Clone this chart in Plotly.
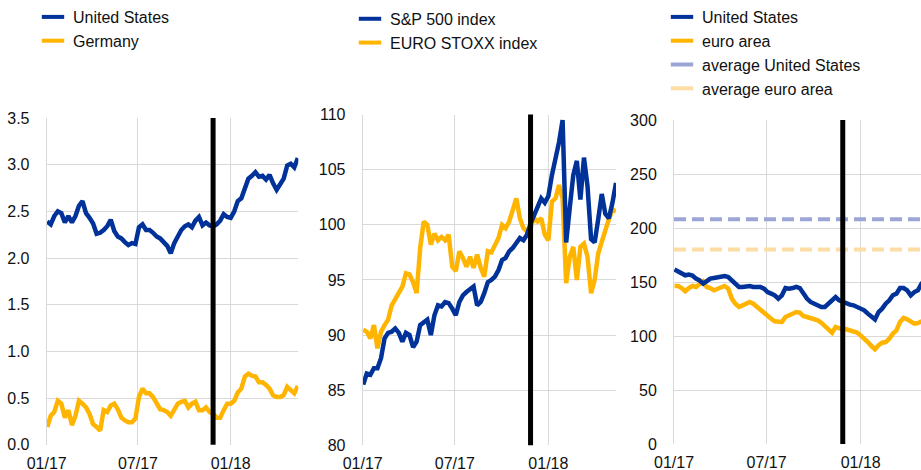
import pandas as pd
import plotly.graph_objects as go

# ---------------- data ----------------
dates = pd.date_range("2017-01-02", periods=72, freq="7D")
dates3 = dates[:71]

tick_vals = ["2017-01-01", "2017-07-01", "2018-01-01"]
tick_text = ["01/17", "07/17", "01/18"]
event_date = "2017-11-27"

# Panel 1: 10-year government bond yields (%)
p1_us = [2.39, 2.36, 2.45, 2.50, 2.48, 2.38, 2.45, 2.38, 2.45, 2.56,
         2.61, 2.48, 2.43, 2.37, 2.26, 2.27, 2.30, 2.34, 2.41, 2.29,
         2.23, 2.21, 2.17, 2.14, 2.16, 2.15, 2.33, 2.36, 2.30, 2.30,
         2.27, 2.23, 2.21, 2.17, 2.13, 2.05, 2.16, 2.23, 2.30, 2.34,
         2.36, 2.33, 2.40, 2.44, 2.35, 2.38, 2.35, 2.34, 2.36, 2.40,
         2.47, 2.44, 2.43, 2.50, 2.61, 2.64, 2.74, 2.85, 2.88, 2.92,
         2.87, 2.88, 2.84, 2.89, 2.80, 2.73, 2.79, 2.85, 2.99, 3.01,
         2.97, 3.07]
p1_de = [0.19, 0.31, 0.35, 0.47, 0.44, 0.29, 0.37, 0.21, 0.31, 0.47,
         0.44, 0.40, 0.33, 0.22, 0.19, 0.15, 0.37, 0.35, 0.42, 0.44,
         0.38, 0.29, 0.26, 0.24, 0.24, 0.28, 0.51, 0.60, 0.55, 0.55,
         0.51, 0.44, 0.38, 0.37, 0.35, 0.31, 0.38, 0.44, 0.46, 0.47,
         0.40, 0.44, 0.46, 0.37, 0.37, 0.40, 0.35, 0.33, 0.29, 0.29,
         0.37, 0.44, 0.44, 0.47, 0.56, 0.60, 0.73, 0.76, 0.74, 0.73,
         0.67, 0.67, 0.64, 0.60, 0.53, 0.51, 0.51, 0.53, 0.62, 0.58,
         0.55, 0.63]

# Panel 2: equity indices
p2_sp = [85.5, 86.5, 86.4, 87.0, 87.0, 87.9, 89.7, 90.2, 90.3, 90.6,
         90.2, 89.4, 90.2, 90.0, 88.9, 89.4, 90.9, 91.2, 91.4, 90.0,
         91.8, 92.7, 92.6, 93.0, 92.9, 92.4, 91.8, 93.0, 93.6, 93.9,
         94.2, 94.4, 92.7, 93.0, 93.8, 94.8, 95.0, 95.3, 95.9, 96.8,
         97.0, 97.6, 97.9, 98.3, 98.8, 98.6, 99.1, 100.1, 100.9, 101.5,
         102.4, 102.0, 102.6, 104.5, 105.8, 107.5, 109.5, 98.4, 101.5, 104.5,
         105.8, 102.3, 106.1, 103.5, 98.7, 98.4, 100.5, 102.8, 101.0, 100.6,
         102.0, 103.8]
p2_es = [90.5, 90.3, 89.7, 90.9, 88.8, 90.3, 90.9, 91.4, 92.7, 93.3,
         93.8, 94.4, 95.6, 95.5, 94.8, 93.8, 97.9, 100.3, 100.0, 98.2,
         99.2, 98.6, 98.9, 98.6, 99.1, 96.2, 95.8, 97.6, 97.0, 96.2,
         97.1, 96.1, 97.3, 96.1, 95.3, 97.6, 97.5, 98.2, 98.8, 100.0,
         99.7, 100.3, 101.2, 102.4, 100.6, 99.7, 99.4, 99.8, 100.6, 100.3,
         100.6, 99.1, 98.6, 102.1, 102.4, 103.6, 102.4, 94.7, 97.1, 98.0,
         95.0, 98.0, 98.3, 97.1, 93.8, 95.0, 97.4, 98.3, 99.5, 100.5,
         101.4, 101.2]

# Panel 3: corporate bond spreads (basis points)
p3_us = [161.7, 159.9, 157.7, 156.2, 156.8, 156.0, 153.1, 151.5, 148.5, 151.5,
         153.1, 153.7, 154.6, 154.6, 155.6, 154.6, 151.5, 148.5, 145.4, 145.4,
         146.3, 146.3, 145.4, 145.4, 145.4, 143.8, 140.7, 139.2, 137.7, 134.6,
         137.7, 144.4, 143.8, 144.4, 145.4, 144.4, 139.2, 134.6, 131.5, 129.9,
         128.4, 126.9, 126.9, 129.9, 133.0, 136.1, 133.0, 131.5, 129.9, 129.0,
         128.4, 126.9, 125.3, 123.8, 120.7, 118.5, 115.4, 122.2, 125.3, 129.9,
         133.0, 137.7, 139.2, 144.4, 144.4, 142.3, 137.7, 140.7, 142.3, 148.5,
         151.5]
p3_ea = [146.3, 146.3, 144.4, 141.4, 144.4, 146.3, 145.4, 147.5, 150.6, 145.4,
         144.4, 142.3, 143.8, 145.4, 146.3, 143.8, 134.6, 129.9, 126.9, 128.4,
         129.9, 131.5, 129.9, 126.9, 123.8, 120.7, 118.5, 116.0, 113.6, 113.0,
         113.0, 117.6, 119.1, 120.7, 122.2, 121.6, 118.5, 117.6, 116.7, 115.4,
         114.5, 112.3, 109.3, 106.8, 103.1, 108.3, 106.8, 106.2, 106.2, 105.2,
         104.3, 103.1, 100.6, 98.1, 94.4, 90.7, 87.7, 91.4, 93.8, 94.4,
         97.5, 102.2, 105.2, 113.0, 116.7, 115.4, 113.0, 111.5, 112.0, 114.0,
         115.0]
p3_avg_us = 208
p3_avg_ea = 180

# ---------------- styles ----------------
BLUE = "#003299"
YELLOW = "#FFB400"
AVG_BLUE = "#9CA6D6"
AVG_YELLOW = "#FDDDA4"
GRID = "#D9D9D9"
FONT = "Liberation Sans, Arial, sans-serif"
TXT = "#111111"
LW = 4.5

fig = go.Figure()


def add_line(x, y, color, xa, ya, dash=None, width=LW):
    fig.add_trace(go.Scatter(x=x, y=y, mode="lines", xaxis=xa, yaxis=ya,
                             line=dict(color=color, width=width, dash=dash),
                             showlegend=False, hoverinfo="skip"))


def add_legend_item(name, color, legend):
    fig.add_trace(go.Scatter(x=[None], y=[None], mode="markers", name=name,
                             legend=legend, xaxis="x", yaxis="y",
                             marker=dict(symbol="line-ew", size=16, color=color,
                                         line=dict(color=color, width=4))))


# panel 1
add_line(dates, p1_de, YELLOW, "x", "y")
add_line(dates, p1_us, BLUE, "x", "y")
# panel 2
add_line(dates, p2_es, YELLOW, "x2", "y2")
add_line(dates, p2_sp, BLUE, "x2", "y2")
# panel 3
x_avg = ["2017-01-01", "2018-05-14"]
add_line(x_avg, [p3_avg_us] * 2, AVG_BLUE, "x3", "y3", dash="12px,6px", width=4)
add_line(x_avg, [p3_avg_ea] * 2, AVG_YELLOW, "x3", "y3", dash="12px,6px", width=4)
add_line(dates3, p3_ea, YELLOW, "x3", "y3")
add_line(dates3, p3_us, BLUE, "x3", "y3")

add_legend_item("United States", BLUE, "legend")
add_legend_item("Germany", YELLOW, "legend")
add_legend_item("S&P 500 index", BLUE, "legend2")
add_legend_item("EURO STOXX index", YELLOW, "legend2")
add_legend_item("United States", BLUE, "legend3")
add_legend_item("euro area", YELLOW, "legend3")
add_legend_item("average United States", AVG_BLUE, "legend3")
add_legend_item("average euro area", AVG_YELLOW, "legend3")

W, H = 921, 470


def xdom(l, r):
    return [l / W, min(r / W, 1.0)]


def ydom(top, bottom):
    return [(H - bottom) / H, (H - top) / H]


xcommon = dict(tickvals=tick_vals, ticktext=tick_text, showgrid=True,
               gridcolor=GRID, gridwidth=1, showline=False, zeroline=False,
               ticks="", ticklabelstandoff=7, automargin=False,
               tickfont=dict(family=FONT, size=16, color=TXT), type="date")
ycommon = dict(showgrid=True, gridcolor=GRID, gridwidth=1, showline=True,
               linecolor=GRID, linewidth=1, zeroline=False, ticks="",
               ticklabelstandoff=13, automargin=False,
               tickfont=dict(family=FONT, size=16, color=TXT))

legend_style = dict(xanchor="left", yanchor="top",
                    font=dict(family=FONT, size=16, color=TXT),
                    bgcolor="rgba(0,0,0,0)", borderwidth=0)

fig.update_layout(
    width=W, height=H,
    margin=dict(l=0, r=0, t=0, b=0),
    paper_bgcolor="white", plot_bgcolor="white",
    font=dict(family=FONT, size=16, color=TXT),
    xaxis=dict(domain=xdom(46.7, 298.3), range=["2017-01-01", "2018-05-15"],
               anchor="y", **xcommon),
    yaxis=dict(domain=ydom(118, 444.7), range=[0, 3.5], dtick=0.5,
               tickformat=".1f", anchor="x", **ycommon),
    xaxis2=dict(domain=xdom(362.7, 616), range=["2017-01-01", "2018-05-14"],
                anchor="y2", **xcommon),
    yaxis2=dict(domain=ydom(114.6, 445.3), range=[80, 110], dtick=5,
                anchor="x2", **ycommon),
    xaxis3=dict(domain=xdom(674, 921), range=["2017-01-01", "2018-04-29"],
                anchor="y3", **xcommon),
    yaxis3=dict(domain=ydom(120, 444), range=[0, 300], dtick=50,
                anchor="x3", **ycommon),
    legend=dict(x=33 / W, y=1.0, **legend_style),
    legend2=dict(x=350 / W, y=0.996, **legend_style),
    legend3=dict(x=662 / W, y=1.0, **legend_style),
)

for xr, yr in [("x", "y"), ("x2", "y2"), ("x3", "y3")]:
    fig.add_shape(type="line", xref=xr, yref=yr + " domain",
                  x0=event_date, x1=event_date, y0=0, y1=1,
                  line=dict(color="black", width=5), layer="above")

fig.write_html("out.html",
               config={"displayModeBar": False},
               post_script="document.body.style.margin='0px';"
                           "document.body.style.padding='0px';")
